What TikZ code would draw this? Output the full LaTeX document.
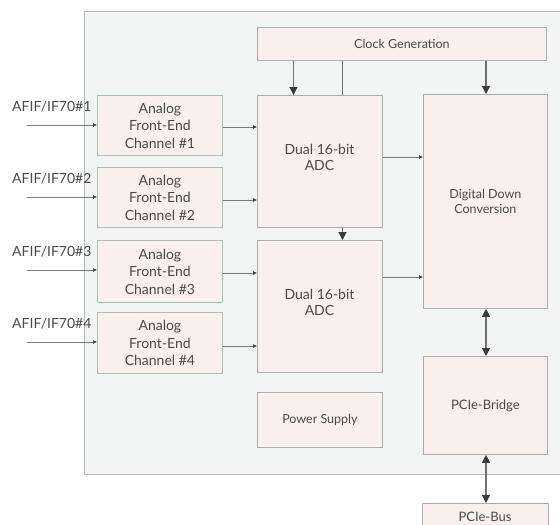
\documentclass[tikz,border=0pt]{standalone}
\usepackage{fontspec}
\setmainfont{Lato}
\usetikzlibrary{arrows.meta,backgrounds}
\definecolor{boxfill}{HTML}{F9F0EE}
\definecolor{outerfill}{HTML}{F3F4F4}
\definecolor{outerline}{HTML}{B4B8BA}
\definecolor{boxline}{HTML}{A6AEB1}
\definecolor{afeline}{HTML}{A8BFBA}
\definecolor{txt}{HTML}{4A4A4A}
\definecolor{thinline}{HTML}{6F7F86}
\definecolor{thickline}{HTML}{707070}
\definecolor{headc}{HTML}{3A3A3A}
\tikzset{
  blk/.style={draw=boxline, fill=boxfill, line width=0.8pt, text=txt, align=center, inner sep=0pt, anchor=north west},
  afe/.style={blk, draw=afeline, font=\fontsize{14}{17.5}\selectfont},
  sig/.style={draw=thinline, line width=0.7pt, -{Latex[length=4pt,width=4pt,color=headc]}},
  clk/.style={draw=thickline, line width=1.1pt, -{Triangle[length=8pt,width=8pt,color=headc]}},
  bidir/.style={draw=thickline, line width=1.1pt, {Triangle[length=8pt,width=8pt,color=headc]}-{Triangle[length=8pt,width=8pt,color=headc]}},
  lbl/.style={text=txt, font=\fontsize{14}{16}\selectfont, inner sep=0pt}
}
\begin{document}
\begin{tikzpicture}[x=1pt,y=-1pt]
\useasboundingbox (0,0) rectangle (560,525);
\clip (0,0) rectangle (560,525);
\node[draw=outerline, fill=outerfill, line width=0.8pt, anchor=north west, minimum width=490pt, minimum height=463pt, inner sep=0pt] (outer) at (84,11) {};
% blocks
\node[blk, minimum width=289pt, minimum height=33pt, font=\fontsize{12.5}{15}\selectfont] (clock) at (257,27) {Clock Generation};
\node[afe, minimum width=125pt, minimum height=60pt] (afe1) at (97,95) {Analog\\Front-End\\Channel \#1};
\node[afe, minimum width=125pt, minimum height=60pt] (afe2) at (97,167) {Analog\\Front-End\\Channel \#2};
\node[afe, minimum width=125pt, minimum height=62pt] (afe3) at (97,240) {Analog\\Front-End\\Channel \#3};
\node[afe, minimum width=125pt, minimum height=61pt] (afe4) at (97,312) {Analog\\Front-End\\Channel \#4};
\node[blk, minimum width=125pt, minimum height=132pt, font=\fontsize{14}{16}\selectfont] (adc1) at (257,95) {};
\node[txt, font=\fontsize{14}{16}\selectfont, align=center] at (319.5,157) {Dual 16-bit\\ADC};
\node[blk, minimum width=125pt, minimum height=132pt] (adc2) at (257,240) {};
\node[txt, font=\fontsize{14}{16}\selectfont, align=center] at (319.5,302) {Dual 16-bit\\ADC};
\node[blk, minimum width=124pt, minimum height=214pt, font=\fontsize{12.5}{15}\selectfont] (ddc) at (423,94) {Digital Down\\Conversion};
\node[blk, minimum width=125pt, minimum height=55pt, font=\fontsize{12.5}{15}\selectfont] (power) at (257,392) {Power Supply};
\node[blk, minimum width=124pt, minimum height=98pt, font=\fontsize{13}{15}\selectfont] (bridge) at (423,356) {PCIe-Bridge};
\node[blk, minimum width=126pt, minimum height=40pt, anchor=north west, font=\fontsize{13}{15}\selectfont] (bus) at (422,503) {};
\node[txt, font=\fontsize{13}{15}\selectfont] at (485,517) {PCIe-Bus};
% input labels
\node[lbl, anchor=west] (l1) at (12,107) {AFIF/IF70\#1};
\node[lbl, anchor=west] (l2) at (12,179) {AFIF/IF70\#2};
\node[lbl, anchor=west] (l3) at (12,252) {AFIF/IF70\#3};
\node[lbl, anchor=west] (l4) at (12,324) {AFIF/IF70\#4};
\coordinate (i1) at (27,125);
\coordinate (i2) at (27,197);
\coordinate (i3) at (27,270);
\coordinate (i4) at (27,342);
\draw[sig] (i1) -- (i1 -| afe1.west);
\draw[sig] (i2) -- (i2 -| afe2.west);
\draw[sig] (i3) -- (i3 -| afe3.west);
\draw[sig] (i4) -- (i4 -| afe4.west);
% AFE -> ADC
\draw[sig] (afe1.east |- 0,127) -- (adc1.west |- 0,127);
\draw[sig] (afe2.east |- 0,200) -- (adc1.west |- 0,200);
\draw[sig] (afe3.east |- 0,273) -- (adc2.west |- 0,273);
\draw[sig] (afe4.east |- 0,346) -- (adc2.west |- 0,346);
% ADC -> DDC
\draw[sig] (adc1.east |- 0,157) -- (ddc.west |- 0,157);
\draw[sig] (adc2.east |- 0,277) -- (ddc.west |- 0,277);
% clock
\draw[clk] (clock.south -| 293.5,0) -- (adc1.north -| 293.5,0);
\draw[draw=thickline, line width=1.1pt] (clock.south -| 342.5,0) -- (adc1.north -| 342.5,0);
\draw[clk] (adc1.south -| 342.5,0) -- (adc2.north -| 342.5,0);
\draw[clk] (clock.south -| 486,0) -- (ddc.north -| 486,0);
\draw[bidir] (ddc.south -| 486,0) -- (bridge.north -| 486,0);
\draw[bidir] (bridge.south -| 486,0) -- (bus.north -| 486,0);
\end{tikzpicture}
\end{document}
